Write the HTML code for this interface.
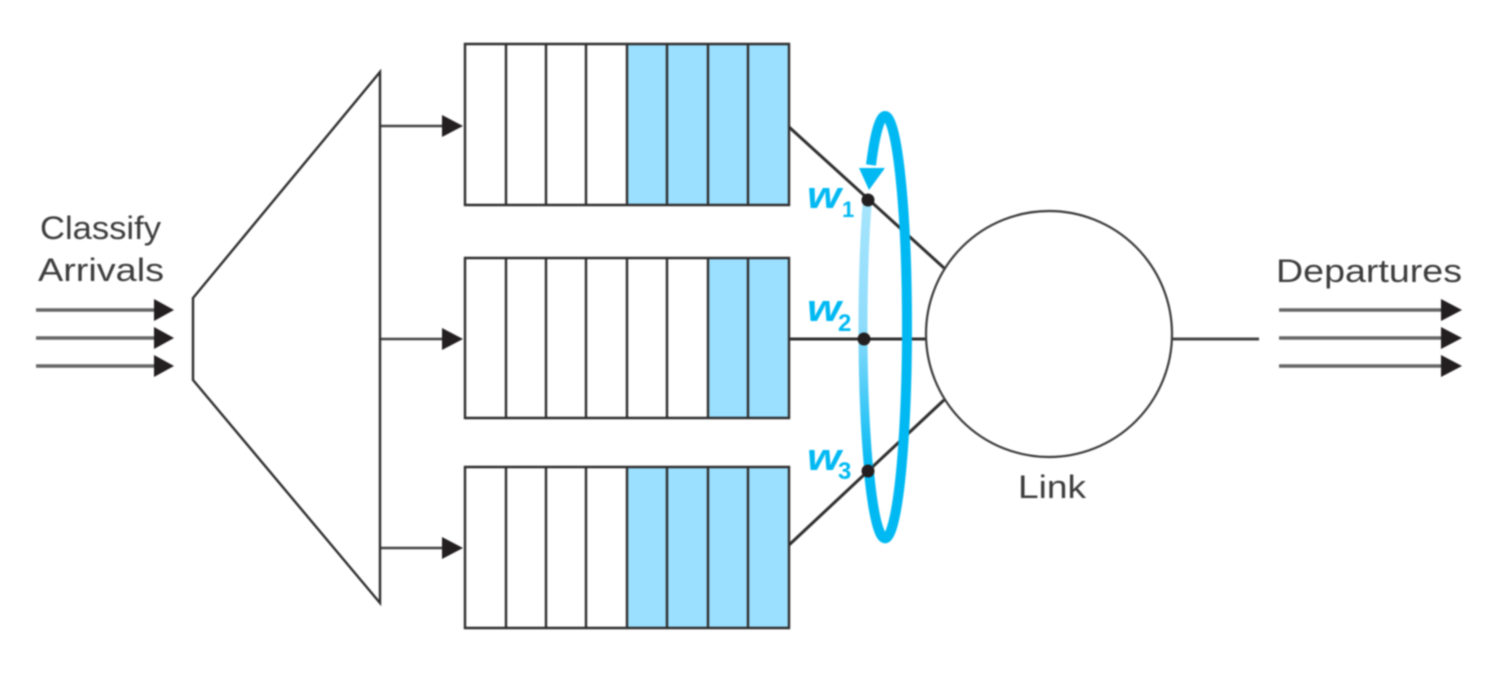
<!DOCTYPE html>
<html>
<head>
<meta charset="utf-8">
<style>
html,body{margin:0;padding:0;background:#fff;width:1500px;height:680px;overflow:hidden}
svg{display:block;filter:blur(0.8px)}
text{font-family:"Liberation Sans",sans-serif}
</style>
</head>
<body>
<svg width="1500" height="680" viewBox="0 0 1500 680" xmlns="http://www.w3.org/2000/svg">
<defs>
<linearGradient id="g" gradientUnits="userSpaceOnUse" x1="0" y1="205" x2="0" y2="470">
<stop offset="0" stop-color="#a5e4fc"/>
<stop offset="0.45" stop-color="#8fdcfb"/>
<stop offset="1" stop-color="#00b9f2"/>
</linearGradient>
</defs>
<rect width="1500" height="680" fill="#fff"/>
<!-- blue fills -->
<rect x="627" y="44" width="162" height="161" fill="#9be0ff"/>
<rect x="708" y="258" width="81" height="160" fill="#9be0ff"/>
<rect x="627" y="467" width="162" height="161" fill="#9be0ff"/>
<!-- queues -->
<g fill="none" stroke="#2e2e2e" stroke-width="2.4">
<path d="M465 44H789V205H465Z M506 44V205 M546 44V205 M586 44V205 M627 44V205 M667 44V205 M708 44V205 M748 44V205"/>
<path d="M465 258H789V418H465Z M506 258V418 M546 258V418 M586 258V418 M627 258V418 M667 258V418 M708 258V418 M748 258V418"/>
<path d="M465 467H789V628H465Z M506 467V628 M546 467V628 M586 467V628 M627 467V628 M667 467V628 M708 467V628 M748 467V628"/>
</g>
<!-- classifier -->
<path d="M380 72V603L193 380V298Z" fill="#fff" stroke="#2e2e2e" stroke-width="2.4"/>
<!-- classifier arrows -->
<g stroke="#444" stroke-width="2.4">
<line x1="381" y1="126" x2="445" y2="126"/>
<line x1="381" y1="339" x2="445" y2="339"/>
<line x1="381" y1="548" x2="445" y2="548"/>
</g>
<g fill="#231f20">
<path d="M442 115L463 126L442 137Z"/>
<path d="M442 328L463 339L442 350Z"/>
<path d="M442 537L463 548L442 559Z"/>
</g>
<!-- connector lines -->
<g stroke="#2e2e2e" stroke-width="3" fill="none">
<line x1="789" y1="127" x2="944" y2="268"/>
<line x1="789" y1="339" x2="926" y2="339"/>
<line x1="789" y1="545" x2="944" y2="400"/>
</g>
<!-- link -->
<circle cx="1049" cy="334" r="123" fill="#fff" stroke="#3a3a3a" stroke-width="2.2"/>
<line x1="1173" y1="339" x2="1259" y2="339" stroke="#444" stroke-width="3"/>
<!-- ellipse back (light part) -->
<path d="M867.4 200A22 211 0 0 0 868.8 470" fill="none" stroke="url(#g)" stroke-width="9"/>
<!-- ellipse front -->
<path d="M868.8 470A22 211 0 0 0 907 327A22 211 0 0 0 885 116A22 211 0 0 0 871 165" fill="none" stroke="#00b9f2" stroke-width="10"/>
<path d="M859 168L885 168L869 190Z" fill="#00b9f2"/>
<!-- nodes -->
<g fill="#231f20">
<circle cx="868" cy="200" r="6.5"/>
<circle cx="864" cy="339" r="6.5"/>
<circle cx="868" cy="471" r="6.5"/>
</g>
<!-- w labels -->
<g fill="#00b9f2" font-weight="bold">
<text x="807" y="208" font-size="38" font-style="italic" textLength="34" lengthAdjust="spacingAndGlyphs">w</text>
<text x="842" y="217" font-size="22">1</text>
<text x="807" y="321" font-size="38" font-style="italic" textLength="34" lengthAdjust="spacingAndGlyphs">w</text>
<text x="838" y="331" font-size="24">2</text>
<text x="807" y="470" font-size="38" font-style="italic" textLength="34" lengthAdjust="spacingAndGlyphs">w</text>
<text x="838" y="479" font-size="24">3</text>
</g>
<!-- text -->
<g fill="#3c3c3c" font-size="32">
<text x="40" y="239" textLength="121" lengthAdjust="spacingAndGlyphs">Classify</text>
<text x="38" y="281" textLength="126" lengthAdjust="spacingAndGlyphs">Arrivals</text>
<text x="1276" y="282" textLength="186" lengthAdjust="spacingAndGlyphs">Departures</text>
<text x="1018" y="498" textLength="68" lengthAdjust="spacingAndGlyphs">Link</text>
</g>
<!-- arrivals arrows -->
<g stroke="#666" stroke-width="3.4">
<line x1="36" y1="310" x2="156" y2="310"/>
<line x1="36" y1="338" x2="156" y2="338"/>
<line x1="36" y1="366" x2="156" y2="366"/>
<line x1="1279" y1="310" x2="1443" y2="310"/>
<line x1="1279" y1="338" x2="1443" y2="338"/>
<line x1="1279" y1="366" x2="1443" y2="366"/>
</g>
<g fill="#231f20">
<path d="M154 299L174 310L154 321Z"/>
<path d="M154 327L174 338L154 349Z"/>
<path d="M154 355L174 366L154 377Z"/>
<path d="M1441 299L1462 310L1441 321Z"/>
<path d="M1441 327L1462 338L1441 349Z"/>
<path d="M1441 355L1462 366L1441 377Z"/>
</g>
</svg>
</body>
</html>
